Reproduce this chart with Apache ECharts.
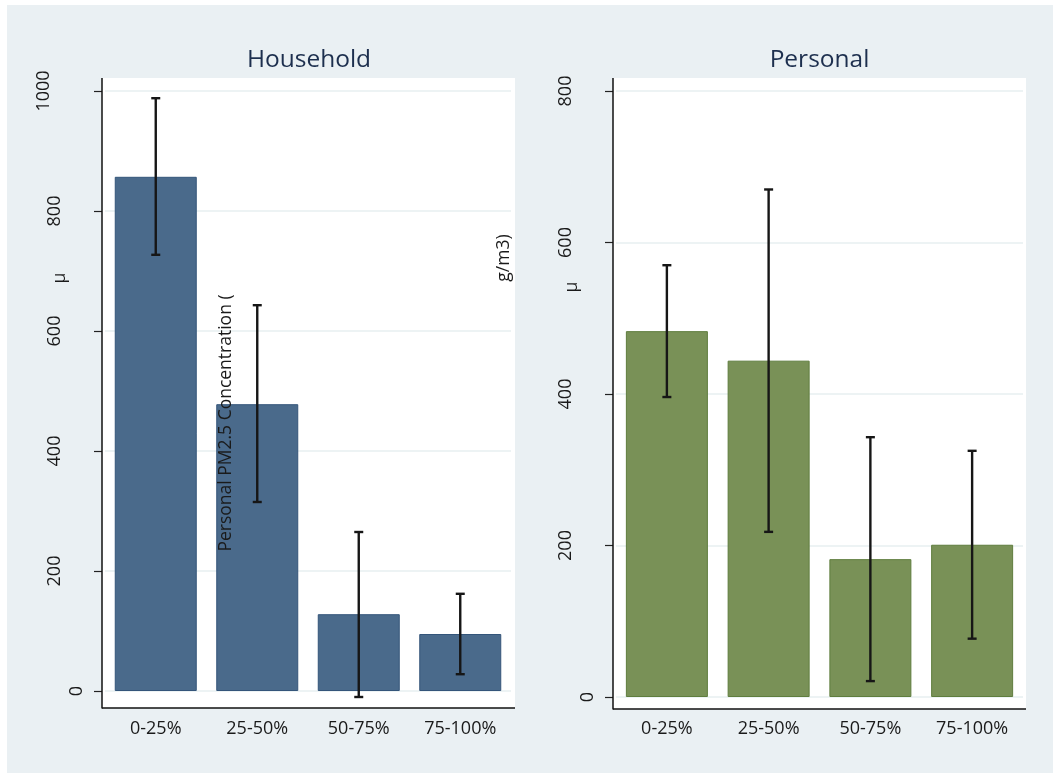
<!DOCTYPE html>
<html>
<head>
<meta charset="utf-8">
<style>
  html, body { margin: 0; padding: 0; background: #ffffff; }
  #chart { width: 1053px; height: 773px; }
</style>
<script src="https://cdn.jsdelivr.net/npm/echarts@6/dist/echarts.min.js"></script>
</head>
<body>
<div id="chart"></div>
<script>
// Quartile groups on the x axis
const categories = ['0-25%', '25-50%', '50-75%', '75-100%'];

// Household panel: mean and 95% interval
const householdMean = [857, 478, 128, 95];
const householdLow  = [727, 315, -10, 28];
const householdHigh = [988, 643, 265, 162];

// Personal panel: mean and 95% interval
const personalMean = [483, 444, 182, 201];
const personalLow  = [396, 218, 21, 77];
const personalHigh = [570, 670, 343, 325];

const panelTitles = ['Household', 'Personal'];

const FONT = '"Open Sans", "Noto Sans", sans-serif';
const TEXT = '#1a1a1a';

// Stata-style vertical tick labels: longer labels sit further from the axis
function tickLabel(v) {
  const s = String(v);
  return '{l' + s.length + '|' + s + '}';
}
const tickRich = {
  l1: { padding: [0, 0, 0, 0], fontSize: 18, fontFamily: FONT, color: TEXT },
  l2: { padding: [0, 0, 11, 0], fontSize: 18, fontFamily: FONT, color: TEXT },
  l3: { padding: [0, 0, 22, 0], fontSize: 18, fontFamily: FONT, color: TEXT },
  l4: { padding: [0, 0, 33, 0], fontSize: 18, fontFamily: FONT, color: TEXT }
};

function errorBarData(low, high) {
  return categories.map((c, i) => [i, low[i], high[i]]);
}

function renderErrorBar(params, api) {
  const i = api.value(0);
  const lo = api.coord([i, api.value(1)]);
  const hi = api.coord([i, api.value(2)]);
  const half = 4.5;
  const style = { stroke: '#161616', lineWidth: 2.4 };
  return {
    type: 'group',
    children: [
      { type: 'line', shape: { x1: lo[0], y1: lo[1], x2: hi[0], y2: hi[1] }, style },
      { type: 'line', shape: { x1: hi[0] - half, y1: hi[1], x2: hi[0] + half, y2: hi[1] }, style },
      { type: 'line', shape: { x1: lo[0] - half, y1: lo[1], x2: lo[0] + half, y2: lo[1] }, style }
    ]
  };
}

function xAxisFor(gridIndex, margin) {
  return {
    type: 'category',
    gridIndex,
    data: categories,
    axisLine: { show: false },
    axisTick: { show: false },
    axisLabel: { margin, fontSize: 18, fontFamily: FONT, color: TEXT }
  };
}

function yAxisFor(gridIndex, max) {
  return {
    type: 'value',
    gridIndex,
    min: 0,
    max,
    interval: 200,
    offset: 3,
    axisLine: { show: false },
    axisTick: { show: true, length: 8, lineStyle: { color: '#222', width: 1.2 } },
    splitLine: { show: true, lineStyle: { color: '#e7eff1', width: 1.6 } },
    axisLabel: {
      rotate: 90,
      margin: 16,
      formatter: tickLabel,
      rich: tickRich
    }
  };
}

const chart = echarts.init(document.getElementById('chart'), null, { renderer: 'canvas' });

const frameLine = { stroke: '#111', lineWidth: 1.5 };
const rotatedText = (text, x, y) => ({
  type: 'text', z: 50, x, y, rotation: Math.PI / 2,
  style: { text, font: '17.5px ' + FONT, fill: TEXT, textAlign: 'center', textVerticalAlign: 'middle' }
});

const option = {
  backgroundColor: '#ffffff',
  animation: false,
  grid: [
    { left: 105, top: 91, width: 406, height: 600 },
    { left: 616, top: 91, width: 407, height: 606 }
  ],
  xAxis: [xAxisFor(0, 29), xAxisFor(1, 23)],
  yAxis: [yAxisFor(0, 1000), yAxisFor(1, 800)],
  graphic: [
    // page and plot-region backgrounds
    { type: 'rect', z: -30, silent: true, shape: { x: 7, y: 5, width: 1046, height: 768 }, style: { fill: '#eaf0f3' } },
    { type: 'rect', z: -20, silent: true, shape: { x: 102, y: 78, width: 413, height: 630 }, style: { fill: '#ffffff' } },
    { type: 'rect', z: -20, silent: true, shape: { x: 613, y: 78, width: 413, height: 631 }, style: { fill: '#ffffff' } },
    // axis frames
    { type: 'line', z: 50, silent: true, shape: { x1: 102, y1: 78, x2: 102, y2: 708.5 }, style: frameLine },
    { type: 'line', z: 50, silent: true, shape: { x1: 102, y1: 708, x2: 515, y2: 708 }, style: frameLine },
    { type: 'line', z: 50, silent: true, shape: { x1: 613, y1: 78, x2: 613, y2: 709.5 }, style: frameLine },
    { type: 'line', z: 50, silent: true, shape: { x1: 613, y1: 709, x2: 1026, y2: 709 }, style: frameLine },
    // panel titles
    { type: 'text', z: 50, x: 309, y: 60, style: { text: panelTitles[0], font: '24.5px ' + FONT, fill: '#1d2f4e', textAlign: 'center', textVerticalAlign: 'middle' } },
    { type: 'text', z: 50, x: 819.5, y: 60, style: { text: panelTitles[1], font: '24.5px ' + FONT, fill: '#1d2f4e', textAlign: 'center', textVerticalAlign: 'middle' } },
    // y-axis title pieces
    rotatedText('Personal PM2.5 Concentration (', 226, 423),
    rotatedText('g/m3)', 504, 258),
    rotatedText('μ', 60, 278),
    rotatedText('μ', 572, 287)
  ],
  series: [
    {
      type: 'bar',
      xAxisIndex: 0,
      yAxisIndex: 0,
      data: householdMean,
      barWidth: 82,
      itemStyle: { color: '#4a6a8b', borderColor: '#34557a', borderWidth: 1 },
      z: 3
    },
    {
      type: 'custom',
      xAxisIndex: 0,
      yAxisIndex: 0,
      data: errorBarData(householdLow, householdHigh),
      encode: { x: 0, y: [1, 2] },
      renderItem: renderErrorBar,
      z: 5
    },
    {
      type: 'bar',
      xAxisIndex: 1,
      yAxisIndex: 1,
      data: personalMean,
      barWidth: 82,
      itemStyle: { color: '#799157', borderColor: '#5f7d3e', borderWidth: 1 },
      z: 3
    },
    {
      type: 'custom',
      xAxisIndex: 1,
      yAxisIndex: 1,
      data: errorBarData(personalLow, personalHigh),
      encode: { x: 0, y: [1, 2] },
      renderItem: renderErrorBar,
      z: 5
    }
  ]
};

chart.setOption(option);
</script>
</body>
</html>
